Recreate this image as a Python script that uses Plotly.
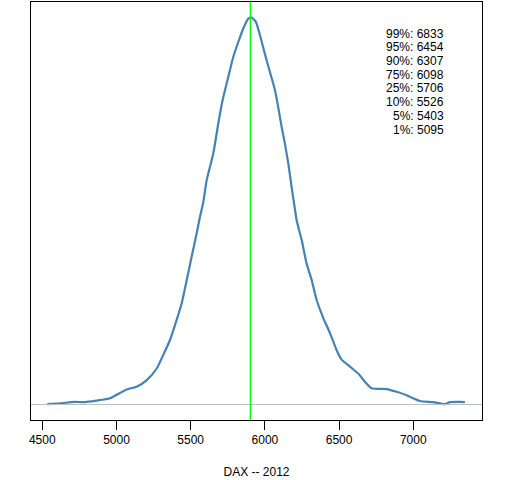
import plotly.graph_objects as go

# Density estimate of DAX 2012 simulated values (relative density, peak = 1)
dax_values = [4534, 4619, 4720, 4776, 4866, 4956, 5024, 5069, 5136, 5204, 5271, 5315,
              5360, 5405, 5439, 5473, 5506, 5540, 5562, 5585, 5608, 5652, 5686, 5715,
              5753, 5787, 5820, 5854, 5888, 5911, 5940, 5967, 6000, 6034, 6068, 6090,
              6113, 6135, 6158, 6180, 6202, 6214, 6248, 6281, 6315, 6349, 6393, 6438,
              6483, 6517, 6573, 6629, 6674, 6719, 6820, 6888, 6955, 7045, 7134, 7213,
              7247, 7314, 7348]
density = [0.001, 0.003, 0.007, 0.006, 0.010, 0.016, 0.030, 0.039, 0.046, 0.063, 0.093, 0.128,
           0.166, 0.218, 0.261, 0.321, 0.381, 0.442, 0.484, 0.523, 0.580, 0.648, 0.726, 0.786,
           0.846, 0.898, 0.936, 0.971, 0.997, 1.000, 0.988, 0.954, 0.906, 0.859, 0.812, 0.768,
           0.717, 0.674, 0.622, 0.562, 0.506, 0.476, 0.425, 0.364, 0.322, 0.270, 0.224, 0.185,
           0.141, 0.116, 0.098, 0.080, 0.059, 0.042, 0.040, 0.033, 0.024, 0.009, 0.006, 0.001,
           0.006, 0.007, 0.006]

current_level = 5902
quantile_labels = ["99%", "95%", "90%", "75%", "25%", "10%", "5%", "1%"]
quantile_values = [6833, 6454, 6307, 6098, 5706, 5526, 5403, 5095]
tick_values = [4500, 5000, 5500, 6000, 6500, 7000]

fig = go.Figure()
fig.add_trace(go.Scatter(x=dax_values, y=density, mode="lines",
                         line=dict(color="#4682B4", width=2.2, shape="spline", smoothing=0.6),
                         hoverinfo="skip"))

fig.add_shape(type="line", xref="paper", yref="y", x0=0, x1=1, y0=0, y1=0,
              line=dict(color="#BEBEBE", width=1))
fig.add_shape(type="line", xref="x", yref="paper", x0=current_level, x1=current_level,
              y0=0, y1=1, line=dict(color="#00FF00", width=1.3))

W, H = 512, 480
left, right, top, bottom = 31, 482, 1.5, 420
for i, (lab, val) in enumerate(zip(quantile_labels, quantile_values)):
    py = 33.3 + i * 13.7
    fig.add_annotation(x=(446 - left) / (right - left), y=(bottom - py) / (bottom - top),
                       xref="paper", yref="paper", text=f"{lab}: {val}",
                       showarrow=False, xanchor="right", yanchor="middle",
                       font=dict(family="Liberation Sans, Arial", size=12, color="black"))

fig.update_layout(
    width=W, height=H,
    margin=dict(l=left, r=W - right, t=top, b=H - bottom),
    paper_bgcolor="white", plot_bgcolor="white",
    showlegend=False,
    font=dict(family="Liberation Sans, Arial", size=12, color="black"),
    xaxis=dict(range=[4424, 7463], tickvals=tick_values, ticks="outside", ticklen=9,
               tickcolor="black", tickwidth=1, showgrid=False, zeroline=False,
               showline=True, linecolor="black", linewidth=1, mirror=True,
               tickfont=dict(size=12, color="black"),
               title=dict(text="DAX -- 2012", standoff=21, font=dict(size=12, color="black"))),
    yaxis=dict(range=[-0.04, 1.04], showticklabels=False, ticks="", showgrid=False,
               zeroline=False, showline=True, linecolor="black", linewidth=1, mirror=True),
)

fig.write_html("out.html", config={"displayModeBar": False},
               post_script="document.body.style.margin='0';document.body.style.overflow='hidden';")
